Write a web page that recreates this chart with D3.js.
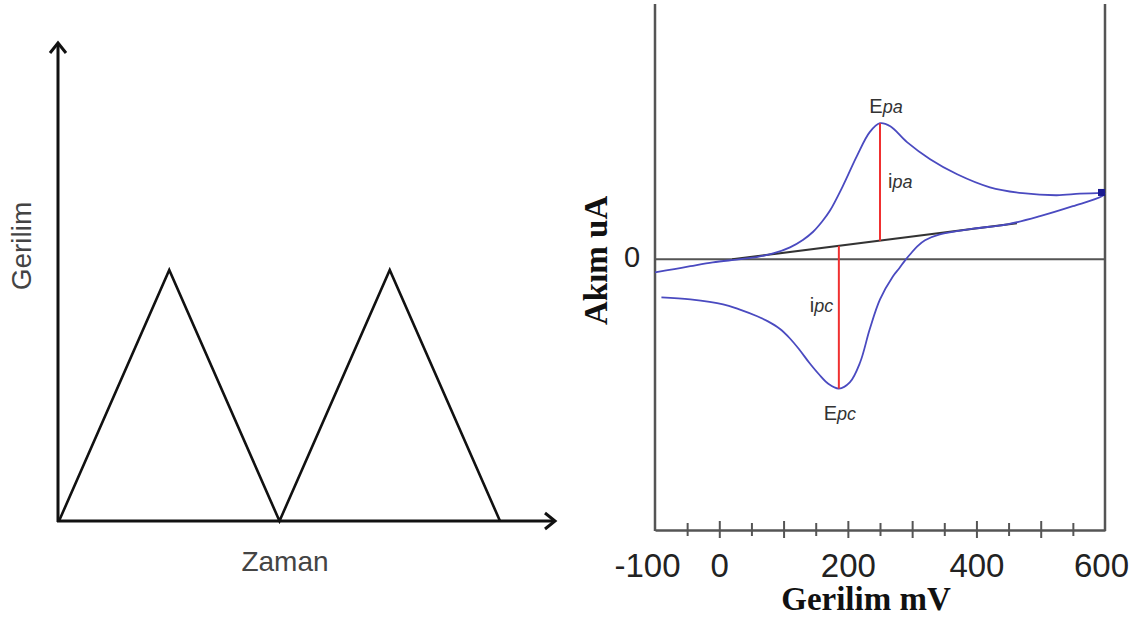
<!DOCTYPE html>
<html>
<head>
<meta charset="utf-8">
<script src="https://cdn.jsdelivr.net/npm/d3@7"></script>
<style>
  html, body { margin: 0; padding: 0; background: #fff; }
  svg { display: block; }
</style>
</head>
<body>
<svg id="chart" width="1143" height="618"></svg>
<script>
// Triangle-wave potential program (left panel)
const sweepTime = [0, 1, 2, 3, 4];
const sweepPotential = [0, 1, 0, 1, 0];

// Cyclic voltammogram (right panel): potential in mV, current in uA
const forwardE = [-100, -70, -45, -10, 30, 60, 85, 110, 130, 146, 160, 172, 192, 214, 234, 250, 266, 292, 328, 370, 421, 472, 525, 561, 600];
const forwardI = [-0.51, -0.38, -0.27, -0.12, 0.0, 0.10, 0.24, 0.47, 0.76, 1.08, 1.48, 1.9, 2.86, 4.04, 4.98, 5.33, 5.21, 4.59, 3.92, 3.33, 2.82, 2.59, 2.51, 2.57, 2.6];
const reverseE = [600, 595, 550, 499, 448, 395, 343, 320, 308, 297, 289, 280, 270, 250, 234, 219, 203, 186, 170, 155, 140, 125, 110, 94, 75, 59, 30, 6, -45, -90];
const reverseI = [2.6, 2.47, 2.08, 1.69, 1.37, 1.2, 0.98, 0.75, 0.51, 0.2, -0.04, -0.35, -0.67, -1.57, -2.74, -4.04, -4.82, -5.06, -4.88, -4.5, -4.05, -3.55, -3.1, -2.72, -2.42, -2.23, -1.95, -1.76, -1.57, -1.49];

// Capacitive baseline used to read the peak currents
const baselineE = [20, 463];
const baselineI = [0, 1.41];

// Peak potentials
const peakAnodicE = 250, peakAnodicI = 5.33;
const peakCathodicE = 186, peakCathodicI = -5.06;

const xTicks = [-100, -50, 0, 50, 100, 150, 200, 250, 300, 350, 400, 450, 500, 550, 600];
const xTickLabels = [-100, 0, 200, 400, 600];

const svg = d3.select("#chart");

// ---------- Left panel ----------
const tx = d3.scaleLinear().domain([0, 4]).range([59, 500]);
const ty = d3.scaleLinear().domain([0, 1]).range([521, 270]);
const left = svg.append("g");

function arrowHead(g, x, y, dir) {
  const s = 10, w = 8;
  const pts = dir === "up"
    ? [[x - w, y + s], [x, y], [x + w, y + s]]
    : [[x - s, y - w], [x, y], [x - s, y + w]];
  g.append("path").attr("d", d3.line()(pts))
    .attr("fill", "none").attr("stroke", "#111").attr("stroke-width", 3)
    .attr("stroke-linejoin", "miter");
}

left.append("line").attr("x1", tx(0) - 1).attr("x2", tx(0) - 1)
  .attr("y1", ty(0) + 1).attr("y2", 43)
  .attr("stroke", "#111").attr("stroke-width", 3);
arrowHead(left, tx(0) - 1, 43, "up");
left.append("line").attr("x1", tx(0) - 2).attr("x2", 555)
  .attr("y1", ty(0)).attr("y2", ty(0))
  .attr("stroke", "#111").attr("stroke-width", 3);
arrowHead(left, 555, ty(0), "right");

left.append("path")
  .datum(sweepTime.map((t, i) => [t, sweepPotential[i]]))
  .attr("d", d3.line().x(d => tx(d[0])).y(d => ty(d[1])))
  .attr("fill", "none").attr("stroke", "#111").attr("stroke-width", 2.6)
  .attr("stroke-linejoin", "miter");

left.append("text").text("Gerilim")
  .attr("transform", "translate(31,246) rotate(-90)")
  .attr("text-anchor", "middle")
  .attr("font-family", "Liberation Sans, Arial, sans-serif")
  .attr("font-size", 28).attr("fill", "#444");
left.append("text").text("Zaman")
  .attr("x", 285).attr("y", 571)
  .attr("text-anchor", "middle")
  .attr("font-family", "Liberation Sans, Arial, sans-serif")
  .attr("font-size", 28).attr("fill", "#444");

// ---------- Right panel ----------
const x = d3.scaleLinear().domain([-100, 600]).range([655, 1105]);
const y = d3.scaleLinear().domain([-10.6, 10]).range([530, 4]);
const right = svg.append("g");
const frameColor = "#555";

// frame: left axis, right border
right.append("line").attr("x1", x(-100)).attr("x2", x(-100)).attr("y1", 4).attr("y2", 531)
  .attr("stroke", frameColor).attr("stroke-width", 2.5);
right.append("line").attr("x1", x(600)).attr("x2", x(600)).attr("y1", 4).attr("y2", 531)
  .attr("stroke", frameColor).attr("stroke-width", 2.5);

// bottom axis with crossing ticks
const xAxis = d3.axisBottom(x).tickValues(xTicks)
  .tickFormat(d => xTickLabels.includes(d) ? String(d) : "")
  .tickSizeOuter(0);
const ax = right.append("g").attr("transform", `translate(0,${y.range()[0]})`).call(xAxis);
ax.select(".domain").attr("stroke", frameColor).attr("stroke-width", 2.5);
ax.selectAll(".tick line")
  .attr("y1", d => (d % 100 === 0 ? -9 : -7))
  .attr("y2", d => (d % 100 === 0 ? 8 : 6))
  .attr("stroke", frameColor).attr("stroke-width", 2)
  .attr("display", d => (d === -100 || d === 600) ? "none" : null);
ax.selectAll(".tick text")
  .attr("y", 47).attr("dy", 0)
  .attr("font-family", "Liberation Sans, Arial, sans-serif")
  .attr("font-size", 33).attr("fill", "#222")
  .attr("dx", d => d === -100 ? -8 : (d === 600 ? -4 : 0));

// zero line
right.append("line").attr("x1", x(-100)).attr("x2", x(600)).attr("y1", y(0)).attr("y2", y(0))
  .attr("stroke", frameColor).attr("stroke-width", 2);
right.append("text").text("0")
  .attr("x", 632).attr("y", y(0) + 8)
  .attr("text-anchor", "middle")
  .attr("font-family", "Liberation Sans, Arial, sans-serif")
  .attr("font-size", 29).attr("fill", "#222");

// axis titles
right.append("text").text("Akım uA")
  .attr("transform", `translate(607,${y(0) + 1}) rotate(-90)`)
  .attr("text-anchor", "middle")
  .attr("font-family", "Liberation Serif, 'Times New Roman', serif")
  .attr("font-weight", "bold").attr("font-size", 33).attr("fill", "#111");
right.append("text").text("Gerilim mV")
  .attr("x", 866).attr("y", 610)
  .attr("text-anchor", "middle")
  .attr("font-family", "Liberation Serif, 'Times New Roman', serif")
  .attr("font-weight", "bold").attr("font-size", 33).attr("fill", "#111");

// baseline
const line = d3.line().x(d => x(d[0])).y(d => y(d[1]));
right.append("path")
  .datum(baselineE.map((e, i) => [e, baselineI[i]]))
  .attr("d", line).attr("fill", "none")
  .attr("stroke", "#333").attr("stroke-width", 2);

// voltammogram branches
const curve = d3.line().x(d => x(d[0])).y(d => y(d[1])).curve(d3.curveCatmullRom.alpha(0.5));
const blue = "#4a4ac0";
right.append("path")
  .datum(forwardE.map((e, i) => [e, forwardI[i]]))
  .attr("d", curve).attr("fill", "none").attr("stroke", blue).attr("stroke-width", 1.8);
right.append("path")
  .datum(reverseE.map((e, i) => [e, reverseI[i]]))
  .attr("d", curve).attr("fill", "none").attr("stroke", blue).attr("stroke-width", 1.8);
// switching point marker
right.append("rect")
  .attr("x", x(600) - 7).attr("y", y(2.6) - 4)
  .attr("width", 7).attr("height", 7).attr("fill", "#1a1a90");

// peak currents measured from the baseline
const baseAt = e => baselineI[0] + (e - baselineE[0]) * (baselineI[1] - baselineI[0]) / (baselineE[1] - baselineE[0]);
right.append("line")
  .attr("x1", x(peakAnodicE)).attr("x2", x(peakAnodicE))
  .attr("y1", y(baseAt(peakAnodicE))).attr("y2", y(peakAnodicI))
  .attr("stroke", "#f03030").attr("stroke-width", 2);
right.append("line")
  .attr("x1", x(peakCathodicE)).attr("x2", x(peakCathodicE))
  .attr("y1", y(baseAt(peakCathodicE))).attr("y2", y(peakCathodicI))
  .attr("stroke", "#f03030").attr("stroke-width", 2);

// peak labels
function subLabel(main, sub, px, py, anchor) {
  const t = right.append("text")
    .attr("x", px).attr("y", py).attr("text-anchor", anchor)
    .attr("font-family", "Liberation Sans, Arial, sans-serif")
    .attr("font-size", 20).attr("fill", "#333");
  t.append("tspan").text(main);
  t.append("tspan").text(sub).attr("font-style", "italic").attr("font-size", 18);
}
subLabel("E", "pa", x(peakAnodicE) + 6, y(peakAnodicI) - 10, "middle");
subLabel("i", "pa", x(peakAnodicE) + 8, 188, "start");
subLabel("i", "pc", x(peakCathodicE) - 29, 312, "start");
subLabel("E", "pc", x(peakCathodicE) + 1, y(peakCathodicI) + 31, "middle");
</script>
</body>
</html>
